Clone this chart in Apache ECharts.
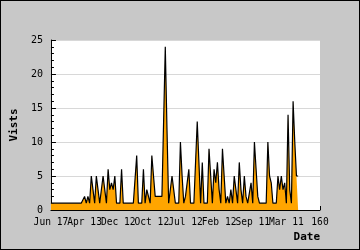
<!DOCTYPE html>
<html><head><meta charset="utf-8">
<script src="https://cdn.jsdelivr.net/npm/echarts@6/dist/echarts.min.js"></script>
<style>html,body{margin:0;padding:0;background:#c8c8c8;}#c{width:358px;height:248px;border:1px solid #000;background:#c8c8c8;}</style>
</head><body><div id="c"></div>
<script>
var xTickLabels = ["Jun 17","Apr 13","Dec 12","Oct 12","Jul 12","Feb 12","Sep 11","Mar 11","160"];
var yTickLabels = ["0","5","10","15","20","25"];
var visits = [
1,1,1,1,1,1,1,1,1,1, 1,1,1,1,1,1,1,1,1,1,
2,1,2,1,5,3,1,5,3,1, 1,5,3,1,6,3,4,3,5,1,
1,1,6,1,1,1,1,1,1,1, 1,8,1,1,1,6,1,3,2,1,
8,5,2,2,2,2,2,2,24,12, 1,1,5,3,1,1,1,10,5,1,
2,2,6,1,1,1,1,13,7,1, 7,1,1,1,9,5,1,6,4,7,
3,1,9,5,1,2,1,3,1,5, 3,1,7,3,1,5,2,1,1,4,
1,10,6,2,1,1,1,1,1,10, 5,4,1,1,1,5,3,5,3,4,
1,14,3,1,16,10,5,5
];
var seriesData = visits.map(function(v,i){return [i,v];});
var chart = echarts.init(document.getElementById('c'));
var mono = "DejaVu Sans Mono";
function labelFor(parity){
  return function(v){var i=Math.round(v/20);return (i%2===parity)?xTickLabels[i]:'';};
}
var labelBase = {fontFamily:mono,fontSize:9.6,color:'#000',margin:7,hideOverlap:false};
chart.setOption({
  backgroundColor:'#c8c8c8',
  animation:false,
  grid:{left:39,top:39,width:280,height:170,show:true,backgroundColor:'#ffffff',borderWidth:0},
  xAxis:[{
    type:'value',min:0,max:160,interval:20,position:'bottom',
    name:'Date',nameLocation:'end',
    nameTextStyle:{fontFamily:mono,fontSize:11,fontWeight:'bold',color:'#000',align:'right',verticalAlign:'top',padding:[22,0,0,0]},
    nameGap:0,
    axisLine:{lineStyle:{color:'#000',width:1}},
    axisTick:{inside:true,length:4,lineStyle:{color:'#000'}},
    splitLine:{show:false},
    axisLabel:Object.assign({formatter:labelFor(0)},labelBase)
  },{
    type:'value',min:0,max:160,interval:20,position:'bottom',offset:0,
    axisLine:{show:false},axisTick:{show:false},splitLine:{show:false},
    axisLabel:Object.assign({formatter:labelFor(1)},labelBase)
  }],
  yAxis:{
    type:'value',min:0,max:25,interval:5,
    name:'Vists',nameLocation:'middle',nameGap:28,nameRotate:90,
    nameTextStyle:{fontFamily:mono,fontSize:11,fontWeight:'bold',color:'#000'},
    axisLine:{show:true,lineStyle:{color:'#000',width:1}},
    axisTick:{show:true,inside:true,length:5,lineStyle:{color:'#000'}},
    minorTick:{show:true,splitNumber:5,length:3,lineStyle:{color:'#000'}},
    splitLine:{show:true,lineStyle:{color:'#d8d8d8',width:1}},
    axisLabel:{fontFamily:mono,fontSize:10,color:'#000',margin:8,
      formatter:function(v){return yTickLabels[Math.round(v/5)];}}
  },
  series:[{
    type:'line',data:seriesData,showSymbol:false,xAxisIndex:0,
    lineStyle:{color:'#000',width:1.2},
    areaStyle:{color:'#ffa500',opacity:1},
    z:3
  }]
});
</script></body></html>
